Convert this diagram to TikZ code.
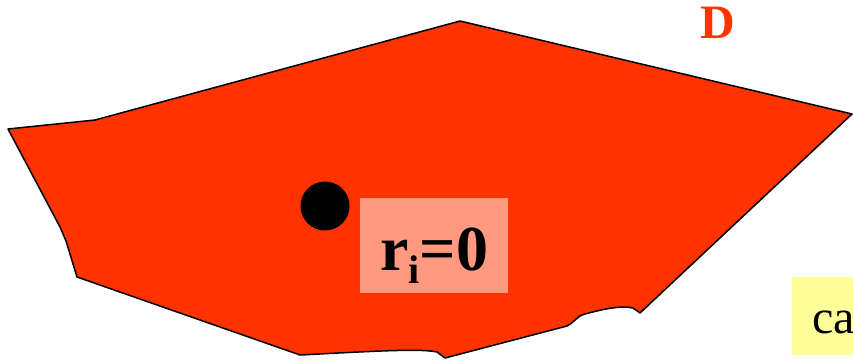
\documentclass[tikz,border=0pt]{standalone}
\usepackage{fontspec}
\setmainfont{Liberation Serif}
\definecolor{regred}{RGB}{255,51,0}
\definecolor{boxsalmon}{RGB}{255,153,128}
\definecolor{boxyellow}{RGB}{255,255,153}
\tikzset{
  region/.style={fill=regred, draw=black, line width=1.5pt, line join=round},
  pointdot/.style={circle, fill=black, inner sep=0pt, minimum size=49pt},
  labelbox/.style={fill=boxsalmon, inner sep=0pt, text width=148pt, align=center, text height=72pt, text depth=23pt, font=\fontsize{64}{64}\selectfont\bfseries},
  notebox/.style={fill=boxyellow, inner sep=0pt, text width=100pt, align=left, text height=56pt, text depth=22pt, font=\fontsize{48}{48}\selectfont},
  regionname/.style={text=regred, font=\fontsize{48}{48}\selectfont\bfseries, inner sep=0pt}
}
\begin{document}
\begin{tikzpicture}[x=1pt,y=-1pt]
\useasboundingbox (0,0) rectangle (853,361);
\clip (0,0) rectangle (853,361);
\draw[region] (8,129) -- (60,227) -- (66,241) -- (77,277) -- (300,355)
  .. controls (360,352) and (420,348) .. (437,352) -- (445,358) -- (567,326)
  .. controls (575,322) and (578,315) .. (585,314)
  .. controls (600,310) and (620,305) .. (633,308) -- (640,313)
  -- (852,114) -- (460,21) -- (95,120) -- cycle;
\node[pointdot] (dot) at (325,206) {};
\node[labelbox, anchor=north west] (ri) at (360,198) {r\raisebox{-0.2em}{\fontsize{40}{40}\selectfont i}=0};
\node[notebox, anchor=north west] (note) at (792,277) {\hspace*{20pt}ca};
\node[regionname, anchor=base] (D) at (718,38) {D};
\end{tikzpicture}
\end{document}
